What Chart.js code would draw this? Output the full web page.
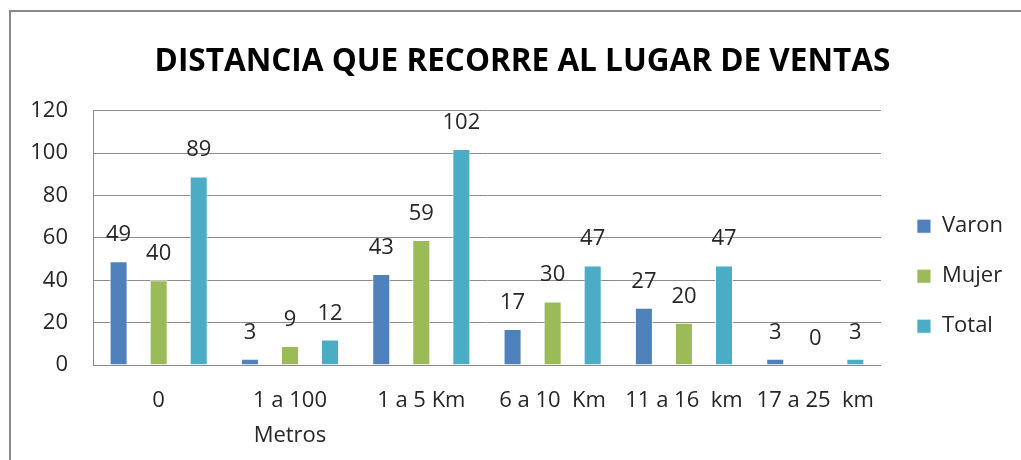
<!DOCTYPE html>
<html>
<head>
<meta charset="utf-8">
<script src="https://cdn.jsdelivr.net/npm/chart.js@4.4.0/dist/chart.umd.min.js"></script>
<style>
  html, body { margin: 0; padding: 0; background: #fff; }
  #wrap { position: relative; width: 1021px; height: 460px; overflow: hidden; }
  #frame { position: absolute; left: 9px; top: 10px; right: -5px; bottom: -5px;
           border-left: 2px solid #8a8a8a; border-top: 2px solid #8a8a8a; pointer-events: none; }
  canvas { position: absolute; left: 0; top: 0; }
</style>
</head>
<body>
<div id="wrap">
  <canvas id="chart" width="1021" height="460"></canvas>
  <div id="frame"></div>
</div>
<script>
// Categories and values
const categories = ["0", ["1 a 100", "Metros"], "1 a 5 Km", "6 a 10  Km", "11 a 16  km", "17 a 25  km"];
const varon = [49, 3, 43, 17, 27, 3];
const mujer = [40, 9, 59, 30, 20, 0];
const total = [89, 12, 102, 47, 47, 3];
const yTicks = [0, 20, 40, 60, 80, 100, 120];

const FONT = "'Open Sans', 'Liberation Sans', sans-serif";

// draws the value above each bar
const valueLabels = {
    id: 'valueLabels',
    afterDatasetsDraw(chart) {
        const ctx = chart.ctx;
        ctx.save();
        ctx.font = "22px " + FONT;
        ctx.fillStyle = "#262626";
        ctx.textAlign = "center";
        ctx.textBaseline = "alphabetic";
        chart.data.datasets.forEach((ds, i) => {
            chart.getDatasetMeta(i).data.forEach((bar, j) => {
                ctx.fillText(ds.data[j], bar.x, bar.y - 20);
            });
        });
        ctx.restore();
    }
};

// title sits a little right of centre, legend a little closer to the edge
const nudgeBoxes = {
    id: 'nudgeBoxes',
    afterLayout(chart) {
        if (chart.titleBlock) { chart.titleBlock.left += 20; chart.titleBlock.right += 20; }
        if (chart.legend) { chart.legend.left += 8; chart.legend.right += 8; }
    }
};

new Chart(document.getElementById('chart'), {
    type: 'bar',
    data: {
        labels: categories,
        datasets: [
            { label: 'Varon', data: varon, backgroundColor: '#4f81bd' },
            { label: 'Mujer', data: mujer, backgroundColor: '#9bbb59' },
            { label: 'Total', data: total, backgroundColor: '#4bacc6' }
        ]
    },
    options: {
        responsive: false,
        animation: false,
        layout: { padding: { left: 0, right: 16, top: 0, bottom: 0 } },
        datasets: {
            bar: { categoryPercentage: 0.915, barPercentage: 0.45, borderWidth: 1, borderColor: 'rgba(255,255,255,0.8)' }
        },
        plugins: {
            title: {
                display: true,
                text: 'DISTANCIA QUE RECORRE AL LUGAR DE VENTAS',
                color: '#000',
                font: { family: FONT, size: 31.5, weight: 'bold', lineHeight: 1.2 },
                padding: { top: 43, bottom: 30 }
            },
            legend: {
                position: 'right',
                align: 'center',
                title: { display: true, text: ' ', font: { size: 22, lineHeight: 1.2 }, padding: { top: 66, bottom: 0 } },
                labels: {
                    color: '#262626',
                    font: { family: FONT, size: 22 },
                    boxWidth: 14,
                    boxHeight: 14,
                    padding: 28
                }
            },
            tooltip: { enabled: false }
        },
        scales: {
            x: {
                afterFit: s => { s.height = 95; },
                grid: { display: false, drawTicks: false },
                border: { color: '#8c8c8c' },
                ticks: {
                    color: '#262626',
                    font: { family: FONT, size: 22, lineHeight: 1.6 },
                    padding: 18,
                    maxRotation: 0,
                    autoSkip: false
                }
            },
            y: {
                min: 0,
                max: 120,
                afterBuildTicks: s => { s.ticks = yTicks.map(v => ({ value: v })); },
                afterFit: s => { s.width = 93; },
                grid: { color: '#8c8c8c', drawTicks: false },
                border: { color: '#8c8c8c' },
                ticks: {
                    color: '#262626',
                    font: { family: FONT, size: 22 },
                    padding: 25
                }
            }
        }
    },
    plugins: [valueLabels, nudgeBoxes]
});
</script>
</body>
</html>
